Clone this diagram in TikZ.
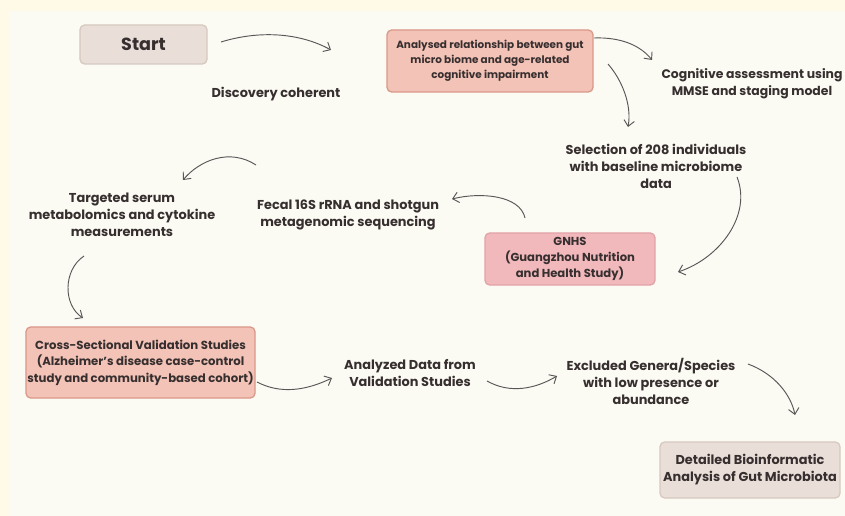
\documentclass[tikz,border=0pt]{standalone}
\usepackage{fontspec}
\setmainfont{Poppins}
\usepackage{tikz}
\usetikzlibrary{arrows.meta,calc}

\definecolor{outerbg}{HTML}{FFF9E8}
\definecolor{panelbg}{HTML}{FBFBF4}
\definecolor{ink}{HTML}{372F2F}
\definecolor{arrowgray}{HTML}{5A5656}
\definecolor{beigefill}{HTML}{E9DFD8}
\definecolor{beigeline}{HTML}{D6C9C0}
\definecolor{salmonfill}{HTML}{F3C3B7}
\definecolor{salmonline}{HTML}{DA9888}
\definecolor{pinkfill}{HTML}{F2B9BD}
\definecolor{pinkline}{HTML}{E2A2A7}

\tikzset{
    txt/.style={font=\bfseries\fontsize{11}{14.5}\selectfont, text=ink, align=center},
    box/.style={txt, rounded corners=4pt, line width=1.1pt, inner sep=0pt},
    beigebox/.style={box, fill=beigefill, draw=beigeline},
    salmonbox/.style={box, fill=salmonfill, draw=salmonline},
    pinkbox/.style={box, fill=pinkfill, draw=pinkline},
    flow/.style={draw=arrowgray, line width=0.8pt, -{Straight Barb[length=5pt,width=9pt]}}
}

\begin{document}
\begin{tikzpicture}[x=0.03cm, y=-0.03cm]
    \fill[outerbg] (0,0) rectangle (845,516);
    \fill[panelbg] (9,11) rectangle (845,516);
    \useasboundingbox (0,0) rectangle (845,516);

    \node[beigebox, minimum width=3.81cm, minimum height=1.17cm, font=\bfseries\fontsize{15}{18}\selectfont] (start) at (143.5,44.5) {Start};
    \node[txt] (discovery) at (276,94) {Discovery coherent};
    \node[salmonbox, minimum width=6.18cm, minimum height=1.86cm, font=\bfseries\fontsize{8.9}{12.7}\selectfont] (analysed) at (490,61) {Analysed relationship between gut\\micro biome and age-related\\cognitive impairment};
    \node[txt, font=\bfseries\fontsize{10.6}{14.5}\selectfont] (cognitive) at (752,84) {Cognitive assessment using\\MMSE and staging model};
    \node[txt] (selection) at (656,166) {Selection of 208 individuals\\with baseline microbiome\\data};
    \node[pinkbox, minimum width=5.1cm, minimum height=1.56cm, font=\bfseries\fontsize{9.9}{14}\selectfont] (gnhs) at (570,259) {GNHS\\(Guangzhou Nutrition\\and Health Study)};
    \node[txt] (fecal) at (348,215) {Fecal 16S rRNA and shotgun\\metagenomic sequencing};
    \node[txt] (targeted) at (122,215) {Targeted serum\\metabolomics and cytokine\\measurements};
    \node[salmonbox, minimum width=6.87cm, minimum height=2.13cm, font=\bfseries\fontsize{10}{14}\selectfont] (cross) at (140.5,362.5) {Cross-Sectional Validation Studies\\(Alzheimer's disease case-control\\study and community-based cohort)};
    \node[txt] (analyzed) at (410,373) {Analyzed Data from\\Validation Studies};
    \node[txt] (excluded) at (651,381) {Excluded Genera/Species\\with low presence or\\abundance};
    \node[beigebox, minimum width=5.4cm, minimum height=1.68cm] (detailed) at (750,470) {Detailed Bioinformatic\\Analysis of Gut Microbiota};

    \coordinate (s1) at (221,42);   \coordinate (e1) at (331,50);
    \coordinate (s2) at (594,38);   \coordinate (e2) at (652,60);
    \coordinate (s3) at (608,64);   \coordinate (e3) at (628,127);
    \coordinate (s4) at (737,177);  \coordinate (e4) at (678,272);
    \coordinate (s5) at (525,218);  \coordinate (e5) at (452,199);
    \coordinate (s6) at (256,165);  \coordinate (e6) at (183,180);
    \coordinate (s7) at (84,256);   \coordinate (e7) at (83,318);
    \coordinate (s8) at (257,382);  \coordinate (e8) at (332,378);
    \coordinate (s9) at (487,381);  \coordinate (e9) at (557,376);
    \coordinate (s10) at (748,364); \coordinate (e10) at (795,415);

    \draw[flow] (s1) .. controls (260,30) and (300,33) .. (e1);
    \draw[flow] (s2) .. controls (620,37) and (640,45) .. (e2);
    \draw[flow] (s3) .. controls (622,80) and (632,105) .. (e3);
    \draw[flow] (s4) .. controls (752,215) and (720,258) .. (e4);
    \draw[flow] (s5) .. controls (520,195) and (480,192) .. (e5);
    \draw[flow] (s6) .. controls (230,148) and (200,160) .. (e6);
    \draw[flow] (s7) .. controls (63,270) and (63,305) .. (e7);
    \draw[flow] (s8) .. controls (280,394) and (305,391) .. (e8);
    \draw[flow] (s9) .. controls (510,394) and (535,389) .. (e9);
    \draw[flow] (s10) .. controls (775,374) and (791,395) .. (e10);
\end{tikzpicture}
\end{document}
